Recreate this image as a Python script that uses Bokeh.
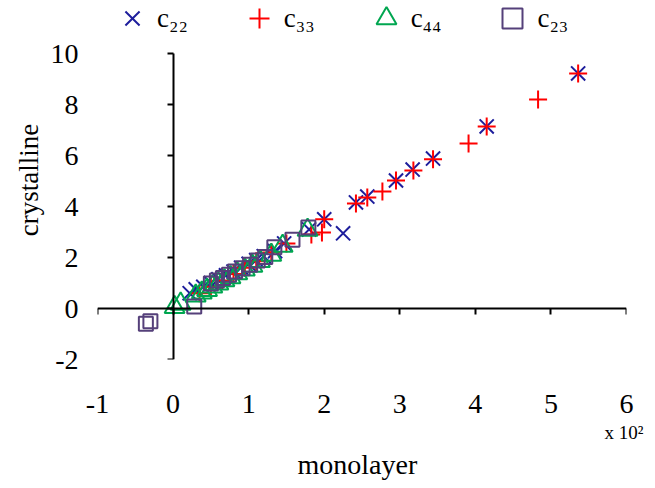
from bokeh.plotting import figure
from bokeh.models import (Range1d, LinearAxis, FixedTicker, Legend, LegendItem, Title)
from bokeh.embed import file_html
from bokeh.resources import INLINE

# ---- data (x in units of 10^2) ----
c22_x = [0.22, 0.3, 0.4, 0.5, 0.6, 0.7, 0.8, 0.9, 1.0, 1.1, 1.2, 1.35, 1.47, 1.8, 2.0, 2.25, 2.42, 2.57, 2.95, 3.17, 3.44, 4.15, 5.36]
c22_y = [0.6, 0.75, 0.85, 1.0, 1.15, 1.3, 1.45, 1.6, 1.75, 1.9, 2.05, 2.25, 2.55, 3.1, 3.5, 2.95, 4.16, 4.39, 5.02, 5.45, 5.88, 7.14, 9.22]

c33_x = [0.35, 0.5, 0.65, 0.8, 0.95, 1.1, 1.3, 1.5, 1.83, 1.97, 2.0, 2.42, 2.57, 2.77, 2.95, 3.18, 3.44, 3.91, 4.15, 4.83, 5.36]
c33_y = [0.6, 0.85, 1.1, 1.35, 1.6, 1.85, 2.2, 2.55, 2.9, 2.98, 3.5, 4.12, 4.35, 4.59, 5.02, 5.41, 5.85, 6.47, 7.14, 8.2, 9.22]

c44_x = [0.02, 0.1, 0.3, 0.38, 0.45, 0.52, 0.6, 0.68, 0.76, 0.85, 0.95, 1.05, 1.15, 1.3, 1.45, 1.78]
c44_y = [0.05, 0.18, 0.5, 0.62, 0.72, 0.85, 0.97, 1.1, 1.22, 1.37, 1.52, 1.67, 1.85, 2.1, 2.45, 3.08]

c23_x = [-0.36, -0.3, 0.28, 0.5, 0.58, 0.66, 0.74, 0.82, 0.92, 1.02, 1.12, 1.22, 1.34, 1.58, 1.79]
c23_y = [-0.6, -0.5, 0.08, 0.98, 1.1, 1.2, 1.32, 1.45, 1.58, 1.72, 1.88, 2.02, 2.4, 2.7, 3.18]

x_ticks = [-1, 0, 1, 2, 3, 4, 5, 6]
y_ticks = [-2, 0, 2, 4, 6, 8, 10]
x_tick_labels = {t: str(t) for t in x_ticks}
y_tick_labels = {t: str(t) for t in y_ticks}

X_MIN, X_MAX = -1, 6
Y_MIN, Y_MAX = -2, 10
Y_TOP = 12.08   # room above the axes for the legend

FONT = "Liberation Serif"

p = figure(width=650, height=486, output_backend="svg", toolbar_location=None,
           x_range=Range1d(X_MIN, X_MAX), y_range=Range1d(Y_MIN, Y_TOP),
           x_axis_type=None, y_axis_type=None,
           min_border_left=97, min_border_right=24, min_border_top=0, min_border_bottom=127)
p.outline_line_color = None
p.xgrid.visible = False
p.ygrid.visible = False

# axis lines crossing at the origin
xf = LinearAxis(ticker=FixedTicker(ticks=x_ticks), fixed_location=0, bounds=(X_MIN, X_MAX))
yf = LinearAxis(ticker=FixedTicker(ticks=y_ticks), fixed_location=0, bounds=(Y_MIN, Y_MAX))
for ax in (xf, yf):
    ax.axis_line_color = "black"
    ax.axis_line_width = 2
    ax.major_tick_line_color = "black"
    ax.major_tick_line_width = 2
    ax.major_tick_out = 6
    ax.major_tick_in = 0
    ax.minor_tick_line_color = None
    ax.major_label_text_font_size = "0px"
    ax.major_label_text_alpha = 0
p.add_layout(xf, "below")
p.add_layout(yf, "left")

# tick labels at the edges (no lines, no ticks)
xl = LinearAxis(ticker=FixedTicker(ticks=x_ticks), major_label_overrides=x_tick_labels)
yl = LinearAxis(ticker=FixedTicker(ticks=y_ticks), axis_label="crystalline",
                major_label_overrides=y_tick_labels)
for ax in (xl, yl):
    ax.axis_line_color = None
    ax.major_tick_line_color = None
    ax.major_tick_out = 0
    ax.major_tick_in = 0
    ax.minor_tick_line_color = None
    ax.major_label_text_font = FONT
    ax.major_label_text_font_size = "28px"
    ax.major_label_text_color = "black"
    ax.axis_label_text_font = FONT
    ax.axis_label_text_font_style = "normal"
    ax.axis_label_text_color = "black"
    ax.axis_label_text_font_size = "27px"
xl.major_label_standoff = 35
yl.major_label_standoff = 19
yl.axis_label_standoff = 4
p.add_layout(xl, "below")
p.add_layout(yl, "left")

p.add_layout(Title(text="x 10²", align="right", offset=-17, standoff=8,
                   text_font=FONT, text_font_size="19px", text_font_style="normal",
                   text_color="black"), "below")
p.add_layout(Title(text="monolayer", align="left", offset=200, standoff=0,
                   text_font=FONT, text_font_size="28px", text_font_style="normal",
                   text_color="black"), "below")

r22 = p.scatter(c22_x, c22_y, marker="x", size=20, line_color="#1E1E9C", line_width=2)
r33 = p.scatter(c33_x, c33_y, marker="cross", size=18, line_color="#FF0000", line_width=2)
r44 = p.scatter(c44_x, c44_y, marker="triangle", size=20, fill_color=None, line_color="#00A650", line_width=2)
r23 = p.scatter(c23_x, c23_y, marker="square", size=14, fill_color=None, line_color="#55407A", line_width=2)

legend = Legend(items=[LegendItem(label="c₂₂", renderers=[r22]),
                       LegendItem(label="c₃₃", renderers=[r33]),
                       LegendItem(label="c₄₄", renderers=[r44]),
                       LegendItem(label="c₂₃", renderers=[r23])],
                orientation="horizontal", location=(10, 316),
                label_text_font=FONT, label_text_font_size="27px",
                label_text_color="black",
                border_line_color=None, background_fill_alpha=0,
                padding=0, margin=0, spacing=46, label_standoff=-2,
                glyph_width=50, glyph_height=50)
p.add_layout(legend, "center")

open("out.html", "w").write(file_html(p, INLINE))
